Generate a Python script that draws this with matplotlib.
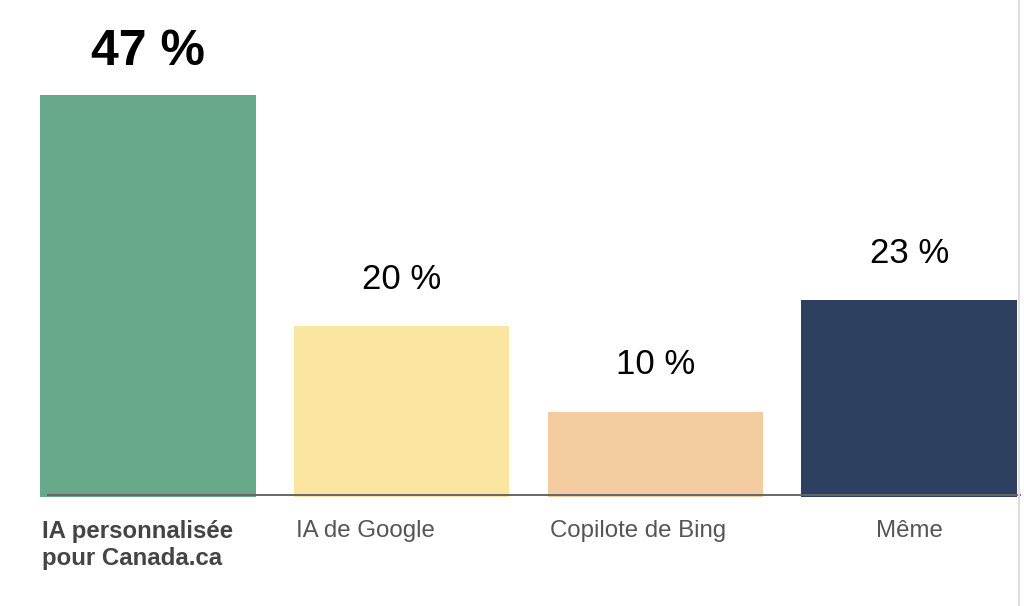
import matplotlib
matplotlib.use("Agg")
import matplotlib.pyplot as plt
from matplotlib.lines import Line2D

categories = ["IA personnalisée\npour Canada.ca", "IA de Google", "Copilote de Bing", "Même"]
values = [47, 20, 10, 23]
value_labels = ["47 %", "20 %", "10 %", "23 %"]
colors = ["#66a889", "#fae5a1", "#f2cc9f", "#2e4060"]
label_align = ["left", "left", "left", "center"]

plt.rcParams['font.family'] = ['Liberation Sans', 'DejaVu Sans']

W, H = 1024, 606
fig = plt.figure(figsize=(W / 100, H / 100), dpi=100)
left_px, right_px = 40, 1017
base_px = 497
px_per_unit = 8.55
top_val = 50
ax_h_px = top_val * px_per_unit
ax = fig.add_axes([left_px / W, (H - base_px) / H, (right_px - left_px) / W, ax_h_px / H])

bw = 0.85
x = list(range(len(values)))
ax.bar(x, values, width=bw, color=colors, zorder=1)
ax.set_xlim(-bw / 2, len(values) - 1 + bw / 2)
ax.set_ylim(0, top_val)
ax.axis('off')

# baseline
ax.axhline(0.2, xmin=8 / 977, xmax=1.003, color="#666666", lw=1.4, clip_on=False, zorder=3)

for i, (v, lab) in enumerate(zip(values, value_labels)):
    if i == 0:
        ax.annotate(lab, (i, v), xytext=(0, 30), textcoords='offset pixels',
                    ha='center', va='baseline', fontsize=36, fontweight='bold', color='black')
    else:
        ax.annotate(lab, (i, v), xytext=(0, 37), textcoords='offset pixels',
                    ha='center', va='baseline', fontsize=25, color='black')

for i, cat in enumerate(categories):
    if label_align[i] == "left":
        xpos, dx = i - bw / 2, 2
    else:
        xpos, dx = i, 0
    ax.annotate(cat, (xpos, 0), xytext=(dx, -23), textcoords='offset pixels',
                ha=label_align[i], va='top', fontsize=17.3,
                fontweight='bold' if i == 0 else 'normal',
                color='#444444' if i == 0 else '#555555',
                linespacing=1.22, annotation_clip=False)

fig.add_artist(Line2D([1019 / W, 1019 / W], [0, 1], color="#dddddd", lw=1.5))

fig.savefig("out.png", dpi=100, facecolor="white")
